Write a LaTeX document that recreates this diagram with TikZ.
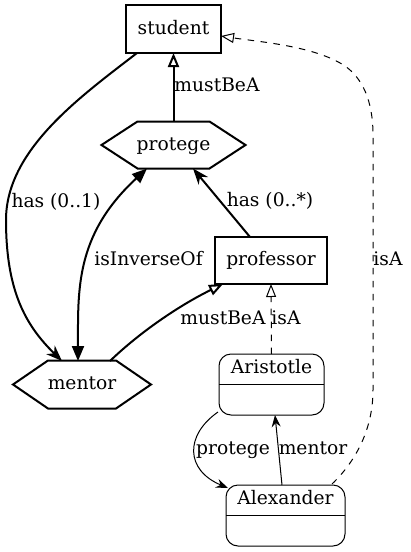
\documentclass[tikz,border=0pt]{standalone}
\usepackage{fontspec}
\setmainfont{DejaVu Serif}
\usetikzlibrary{arrows.meta,calc}
\begin{document}
\begin{tikzpicture}[x=1pt,y=-1pt,
  every node/.style={font=\fontsize{18.67}{22}\selectfont, inner sep=0pt, outer sep=0pt, text height=14pt, text depth=3.4pt},
  box/.style={draw, line width=2pt, rectangle},
  hexline/.style={line width=2pt, line join=miter},
  rec/.style={draw, line width=1pt, rounded corners=12pt},
  thickedge/.style={line width=2pt},
  thinedge/.style={line width=1pt},
  bothhead/.style={{Triangle[length=15pt,width=12pt]}-{Triangle[length=15pt,width=12pt]}},
  openhead/.style={-{Triangle[open,length=14pt,width=11pt]}},
  veehead/.style={-{Stealth[length=16pt,width=12pt,inset=5pt]}},
  thinopen/.style={-{Triangle[open,length=13pt,width=10pt]}},
  thinvee/.style={-{Stealth[length=12pt,width=9pt,inset=4pt]}},
  dashline/.style={dash pattern=on 6.5pt off 6.5pt}
]
\useasboundingbox (0,0) rectangle (410,552);

% nodes
\node[box, minimum width=95pt, minimum height=48pt] (student) at (173.5,29) {student};
\node[minimum width=144pt, minimum height=47pt] (protege) at (173.5,145) {protege};
\node[minimum width=138pt, minimum height=48pt] (mentor) at (82,384.5) {mentor};
\node[box, minimum width=112pt, minimum height=47pt] (professor) at (271,260.5) {professor};
\node[rec, minimum width=105pt, minimum height=61pt] (aristotle) at (271.5,384.5) {};
\node (aristotletext) at ([shift={(0,-16.5)}]aristotle.center) {Aristotle};
\node[rec, minimum width=119pt, minimum height=61pt] (alexander) at (285.5,515.5) {};
\node (alexandertext) at ([shift={(0,-16.5)}]alexander.center) {Alexander};

% hexagon outlines
\draw[hexline] (protege.west) -- ([shift={(-36,0)}]protege.north) -- ([shift={(36,0)}]protege.north) -- (protege.east) -- ([shift={(36,0)}]protege.south) -- ([shift={(-36,0)}]protege.south) -- cycle;
\draw[hexline] (mentor.west) -- ([shift={(-34,0)}]mentor.north) -- ([shift={(34,0)}]mentor.north) -- (mentor.east) -- ([shift={(34,0)}]mentor.south) -- ([shift={(-34,0)}]mentor.south) -- cycle;

% record dividers
\draw[line width=1pt] (aristotle.west) -- (aristotle.east);
\draw[line width=1pt] (alexander.west) -- (alexander.east);

% connectors
\draw[thickedge, veehead] ([shift={(-36.5,24)}]student.center) .. controls (80,97) and (6,150) .. (6,220) .. controls (6,290) and (25,325) .. ([shift={(-20,-23.5)}]mentor.center);
\draw[thickedge, bothhead] ([shift={(-4,-23.5)}]mentor.center) .. controls (78,290) and (75,235) .. ([shift={(-26.5,23.5)}]protege.center);
\draw[thickedge, openhead] ([shift={(0,-23.5)}]protege.center) -- ([shift={(0,24)}]student.center);
\draw[thickedge, veehead] ([shift={(-21,-23.5)}]professor.center) -- ([shift={(19.5,23.5)}]protege.center);
\draw[thickedge, openhead] ([shift={(28,-23.5)}]mentor.center) .. controls (140,332) and (180,305) .. ([shift={(-48,23.5)}]professor.center);
\draw[thinedge, dashline, thinopen] ([shift={(0,-30.5)}]aristotle.center) -- ([shift={(0,23.5)}]professor.center);
\draw[thinedge, dashline, thinopen] ([shift={(46.5,-31.5)}]alexander.center) .. controls (355,462) and (373,430) .. (373,390) -- (373,135) .. controls (373,100) and (362,78) .. (345,66) .. controls (315,46) and (260,42) .. ([shift={(47.5,7)}]student.center);
\draw[thinedge, thinvee] ([shift={(-53.5,27.5)}]aristotle.center) .. controls (185,435) and (185,470) .. ([shift={(-57.5,-27.5)}]alexander.center);
\draw[thinedge, thinvee] ([shift={(-3.5,-30.5)}]alexander.center) -- ([shift={(3.5,30.5)}]aristotle.center);

% labels
\node (l1) at (217,86) {mustBeA};
\node (l2) at (56,202) {has (0..1)};
\node (l3) at (270,201) {has (0..*)};
\node (l4) at (148.5,260) {isInverseOf};
\node (l5) at (223,319) {mustBeA};
\node (l6) at (286,319) {isA};
\node (l7) at (388,260) {isA};
\node (l8) at (233,449) {protege};
\node (l9) at (313,449) {mentor};
\end{tikzpicture}
\end{document}
